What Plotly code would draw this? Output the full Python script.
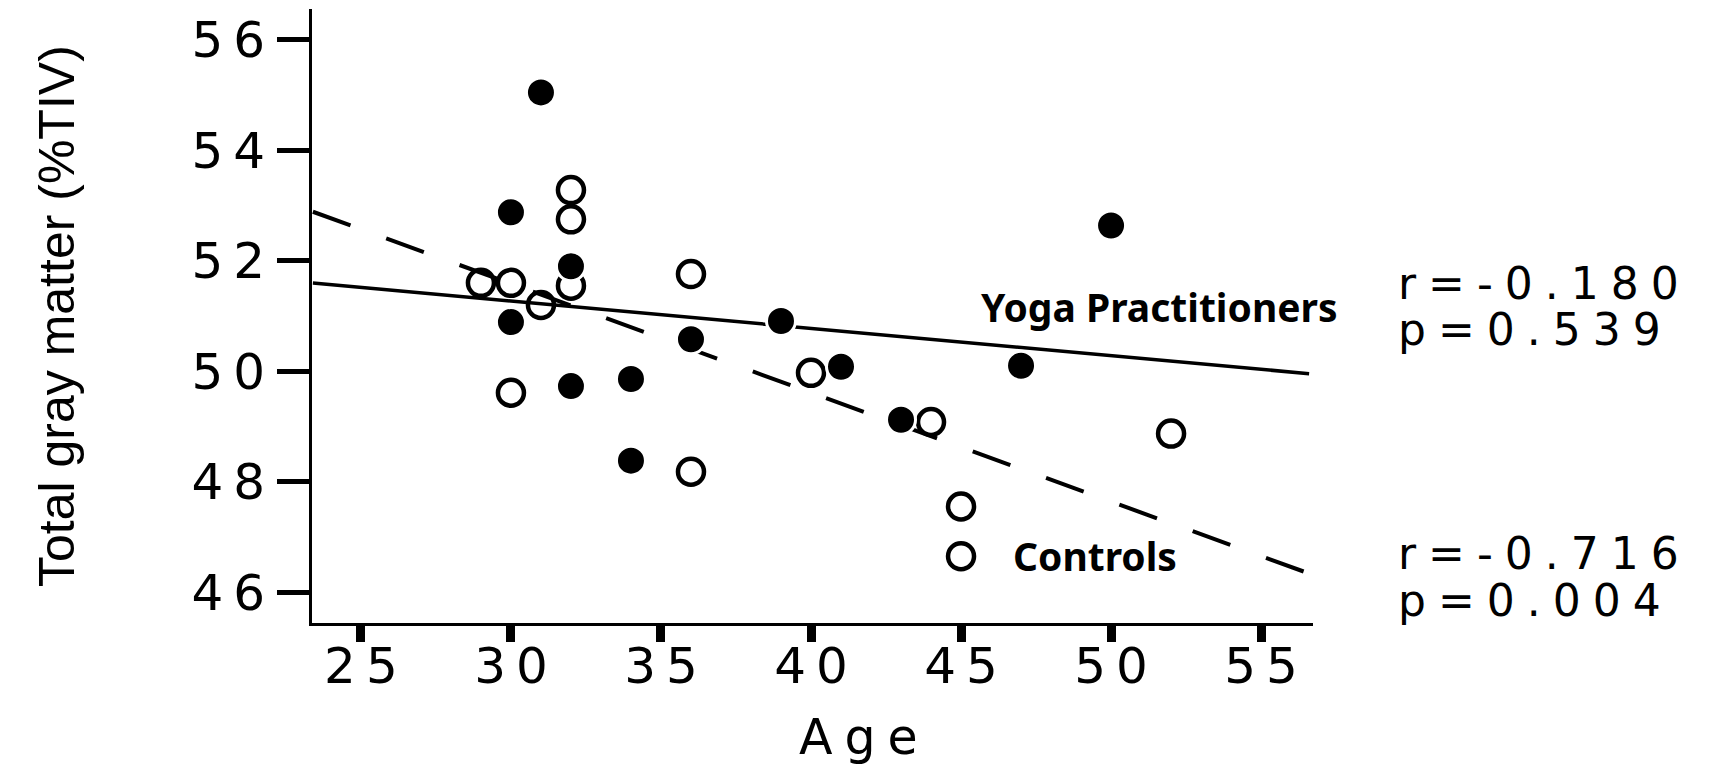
import numpy as np
import plotly.graph_objects as go

# ---- data ----
yoga_age = [31, 30, 32, 30, 32, 34, 34, 36, 39, 41, 43, 47, 50]
yoga_gm = [55.05, 52.88, 51.90, 50.89, 49.73, 49.86, 48.38, 50.58, 50.91, 50.08, 49.12, 50.10, 52.64]

control_age = [29, 30, 30, 31, 32, 32, 32, 36, 36, 40, 44, 45, 45, 52]
control_gm = [51.60, 51.60, 49.61, 51.20, 53.28, 52.75, 51.55, 51.76, 48.18, 49.97, 49.08, 47.55, 46.65, 48.87]

fit_age_span = [23.4, 56.6]

x_ticks = [25, 30, 35, 40, 45, 50, 55]
y_ticks = [46, 48, 50, 52, 54, 56]

stats_labels = ["r=-0.180", "p=0.539", "r=-0.716", "p=0.004"]
group_labels = ["Yoga Practitioners", "Controls"]
x_title = "Age"
y_title = "Total gray matter (%TIV)"


def spaced(s, px):
    return f'<span style="letter-spacing:{px}px">{s}</span>'


span = np.array(fit_age_span)
yoga_fit = np.polyfit(yoga_age, yoga_gm, 1)
ctrl_fit = np.polyfit(control_age, control_gm, 1)

fig = go.Figure()
fig.add_trace(go.Scatter(x=span, y=np.polyval(yoga_fit, span), mode="lines",
                         line=dict(color="black", width=3.5), hoverinfo="skip"))
fig.add_trace(go.Scatter(x=span, y=np.polyval(ctrl_fit, span), mode="lines",
                         line=dict(color="black", width=4, dash="40px,38px"), hoverinfo="skip"))
fig.add_trace(go.Scatter(x=control_age, y=control_gm, mode="markers",
                         marker=dict(symbol="circle-open", size=26, color="black",
                                     line=dict(width=4.5, color="black"))))
fig.add_trace(go.Scatter(x=yoga_age, y=yoga_gm, mode="markers",
                         marker=dict(symbol="circle", size=29, color="black",
                                     line=dict(width=3, color="white"))))

tickfont = dict(family="DejaVu Sans", size=50, color="black")

# page has an 8px body margin: plot area in page pixels is x 312..1313, y 9..623
fig.update_layout(
    width=1703, height=757,
    margin=dict(l=304, r=398, t=1, b=142),
    paper_bgcolor="white", plot_bgcolor="white",
    showlegend=False,
    xaxis=dict(range=[23.37, 56.73], tickvals=x_ticks,
               ticktext=[spaced(str(v), 10) for v in x_ticks],
               ticks="outside", ticklen=16, tickwidth=9, tickcolor="black",
               showline=True, linewidth=2.5, linecolor="black",
               showgrid=False, zeroline=False, tickfont=tickfont,
               ticklabelstandoff=-19, ticklabelshift=5),
    yaxis=dict(range=[45.44, 56.56], tickvals=y_ticks,
               ticktext=[spaced(str(v), 10) for v in y_ticks],
               ticks="outside", ticklen=32, tickwidth=5, tickcolor="black",
               showline=True, linewidth=3, linecolor="black",
               showgrid=False, zeroline=False, tickfont=tickfont,
               ticklabelstandoff=-8),
)

label_font = dict(family="Noto Sans", size=39, color="black", weight="bold")
fig.add_annotation(x=45.6, y=51.18, xref="x", yref="y", text=group_labels[0],
                   showarrow=False, xanchor="left", yanchor="middle", font=label_font)
fig.add_annotation(x=46.65, y=46.67, xref="x", yref="y", text=group_labels[1],
                   showarrow=False, xanchor="left", yanchor="middle", font=label_font)

stat_font = dict(family="DejaVu Sans", size=44, color="black")
stat_y_px = [283, 329, 553, 600]
for lab, py in zip(stats_labels, stat_y_px):
    fig.add_annotation(x=(1396 - 312) / 1001, y=(623 - py) / 614, xref="paper", yref="paper",
                       text=spaced(lab, 12), showarrow=False, xanchor="left", yanchor="middle",
                       font=stat_font)

fig.add_annotation(x=(864 - 312) / 1001, y=(623 - 737) / 614, xref="paper", yref="paper",
                   text=spaced(x_title, 12), showarrow=False, xanchor="center", yanchor="middle",
                   font=dict(family="DejaVu Sans", size=49, color="black"))
fig.add_annotation(x=(57 - 312) / 1001, y=(623 - 316) / 614, xref="paper", yref="paper",
                   text=y_title, textangle=-90, showarrow=False, xanchor="center", yanchor="middle",
                   font=dict(family="Liberation Sans", size=50, color="black"))

fig.write_html("out.html")
